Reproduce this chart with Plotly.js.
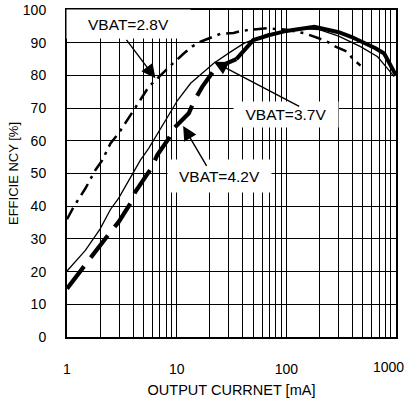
<!DOCTYPE html>
<html>
<head>
<meta charset="utf-8">
<script src="https://cdn.plot.ly/plotly-3.0.1.min.js"></script>
<style>html,body{margin:0;padding:0;background:#fff;}#chart{width:406px;height:400px;}</style>
</head>
<body>
<div id="chart"></div>
<script>
// ---- data ----
var current28 = [1, 1.15, 1.47, 1.81, 2.09, 2.49, 2.96, 3.66, 4.36, 5.56, 6.6, 8.8, 11.6, 13.8, 16.5, 25, 33, 40, 67, 100, 145, 200, 245, 281, 360, 400, 475];
var eff28     = [36, 39.8, 45.4, 51, 54, 59.2, 62.3, 67.3, 71, 76.5, 79, 83, 86.7, 88.8, 90.3, 92.7, 93, 93.7, 94.4, 94, 92.9, 91.3, 90, 88.8, 87.2, 85.2, 83];

var current37 = [1, 1.47, 2.0, 2.49, 2.96, 3.7, 4.67, 5.56, 6.4, 8.2, 10.2, 13.4, 16.5, 21.8, 31, 41, 67, 100, 150, 200, 300, 475, 680, 860, 960];
var eff37     = [20.2, 26.5, 33, 39, 42.5, 48.3, 54.1, 57.7, 61.2, 67.3, 72.4, 77.6, 80.1, 83.7, 87.2, 89.8, 92.6, 93.5, 94.2, 94, 92, 88.8, 85.7, 81.6, 79.6];

var current42 = [1, 1.32, 1.58, 2.49, 2.96, 3.78, 4.2, 5.98, 6.63, 8.47, 9.4, 12.9, 14.3, 17.1, 22.6, 35, 50, 70, 100, 180, 300, 390, 650, 780, 960, 1000];
var eff42     = [14.8, 20.4, 23.5, 32.1, 35.2, 40.8, 44.4, 52, 55.6, 60.7, 63.8, 68.4, 71.9, 76.5, 82.2, 85, 90.8, 92.3, 93.6, 94.9, 93.2, 91.8, 88.3, 86.7, 81.6, 80];
var split42 = 15; // index where the thick curve turns solid

var xTickVals = [1,2,3,4,5,6,7,8,9,10,20,30,40,50,60,70,80,90,100,200,300,400,500,600,700,800,900,1000];
var xTickMain = [1, 10, 100];
var xTickLast = 1000; // drawn as a right-anchored label so it stays inside the picture
var yTickVals = [0,10,20,30,40,50,60,70,80,90,100];

var labels = ['VBAT=2.8V', 'VBAT=3.7V', 'VBAT=4.2V'];

// ---- build ----
var xTickText = xTickVals.map(function(v){ return xTickMain.indexOf(v) >= 0 ? String(v) : ''; });

var traces = [
  {x: current28, y: eff28, mode: 'lines', line: {color: '#000', width: 2.5, dash: '13px,6px,3px,6px'}},
  {x: current37, y: eff37, mode: 'lines', line: {color: '#000', width: 1.3}},
  {x: current42.slice(0, split42 + 1), y: eff42.slice(0, split42 + 1), mode: 'lines', line: {color: '#000', width: 4.2, dash: '28px,11px'}},
  {x: current42.slice(split42), y: eff42.slice(split42), mode: 'lines', line: {color: '#000', width: 4}}
];

var lblFont = {family: 'Liberation Sans, Arial, sans-serif', size: 15.5, color: '#000'};
var tickFont = {family: 'Liberation Sans, Arial, sans-serif', size: 14, color: '#000'};
function box(t, lx, y, w, h) {
  return {text: t, x: lx, y: y, xref: 'x', yref: 'y', showarrow: false, bgcolor: '#fff',
          width: w, height: h, borderpad: 0, font: lblFont, align: 'center', valign: 'middle'};
}
function arrow(lx, y, alx, ay) {
  return {text: '', x: lx, y: y, ax: alx, ay: ay, xref: 'x', yref: 'y', axref: 'x', ayref: 'y',
          showarrow: true, arrowhead: 2, arrowsize: 2, arrowwidth: 1.4, arrowcolor: '#000', standoff: 0, startstandoff: 0};
}

var annotations = [
  box(labels[0], 0.564, 95.7, 123, 28),
  box(labels[1], 1.994, 68.0, 104, 25),
  box(labels[2], 1.386, 49.2, 103, 32),
  arrow(0.806, 79.1, 0.532, 91.3),
  arrow(1.339, 84.2, 2.131, 70.3),
  arrow(1.059, 64.5, 1.281, 51.9),
  {text: String(xTickLast), x: Math.log10(xTickLast), y: 0, xref: 'x', yref: 'paper', showarrow: false,
   xanchor: 'right', yanchor: 'middle', xshift: 10, yshift: -30, font: tickFont}
];

var layout = {
  width: 406, height: 400,
  margin: {l: 67, r: 10.3, t: 10, b: 63.3},
  paper_bgcolor: '#fff', plot_bgcolor: '#fff',
  showlegend: false,
  xaxis: {
    type: 'log', range: [0, 3],
    tickmode: 'array', tickvals: xTickVals, ticktext: xTickText,
    ticks: '', ticklabelstandoff: 18, tickfont: tickFont,
    showgrid: true, gridcolor: '#000', gridwidth: 1,
    showline: true, linecolor: '#000', linewidth: 2, mirror: true, zeroline: false,
    title: {text: 'OUTPUT CURRNET [mA]', font: {family: 'Liberation Sans, Arial, sans-serif', size: 14.5, color: '#000'}, standoff: 9}
  },
  yaxis: {
    range: [0, 100], tickmode: 'array', tickvals: yTickVals,
    ticks: '', ticklabelstandoff: 16, tickfont: tickFont,
    showgrid: true, gridcolor: '#000', gridwidth: 1,
    showline: true, linecolor: '#000', linewidth: 2, mirror: true, zeroline: false,
    title: {text: 'EFFICIE NCY [%]', font: {family: 'Liberation Sans, Arial, sans-serif', size: 13, color: '#000'}, standoff: 1}
  },
  annotations: annotations
};

Plotly.newPlot('chart', traces, layout, {displayModeBar: false, staticPlot: true});
</script>
</body>
</html>
